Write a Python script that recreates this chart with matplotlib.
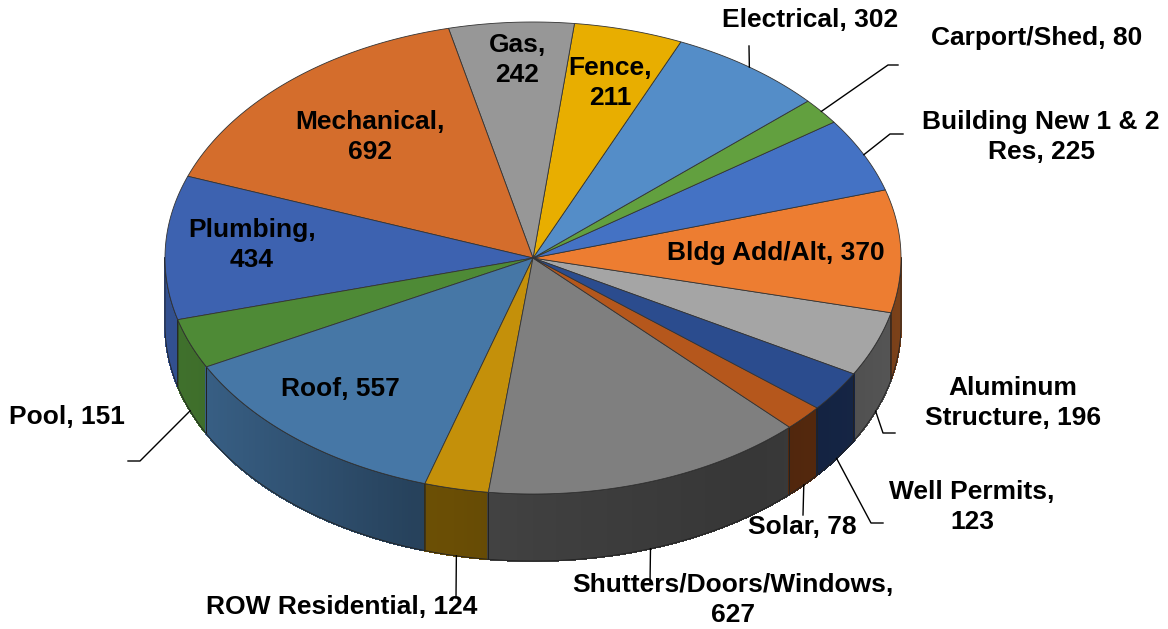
import numpy as np
import matplotlib.pyplot as plt
from matplotlib.colors import to_rgb

# permit counts by type (alphabetical, drawn counterclockwise like the original)
categories = ['Aluminum Structure', 'Bldg Add/Alt', 'Building New 1 & 2 Res', 'Carport/Shed',
              'Electrical', 'Fence', 'Gas', 'Mechanical', 'Plumbing', 'Pool', 'Roof',
              'ROW Residential', 'Shutters/Doors/Windows', 'Solar', 'Well Permits']
counts = [196, 370, 225, 80, 302, 211, 242, 692, 434, 151, 557, 124, 627, 78, 123]
labels = ['Aluminum\nStructure, 196', 'Bldg Add/Alt, 370', 'Building New 1 & 2\nRes, 225',
          'Carport/Shed, 80', 'Electrical, 302', 'Fence,\n211', 'Gas,\n242', 'Mechanical,\n692',
          'Plumbing,\n434', 'Pool, 151', 'Roof, 557', 'ROW Residential, 124',
          'Shutters/Doors/Windows,\n627', 'Solar, 78', 'Well Permits,\n123']
colors = ['#a5a5a5', '#ed7d31', '#4472c4', '#62a03f', '#548dc8', '#e8ae00', '#979797',
          '#d46d2c', '#3d62b0', '#4e8a36', '#4677a6', '#c4900a', '#7f7f7f', '#b5571c', '#2b4c8e']

# label placement (pixels) and leader elbows
label_pos = [(1013, 403), (776, 253), (1041, 137), (1037, 38), (810, 20), (610, 83),
             (517, 60), (370, 137), (252, 245), (67, 417), (340, 389), (342, 607),
             (733, 600), (802, 527), (972, 507)]
leaders = {
    'Aluminum Structure': [(883, 433), (895, 433)],
    'Building New 1 & 2 Res': [(890, 134), (903, 134)],
    'Carport/Shed': [(888, 65), (898, 65)],
    'Electrical': [(749, 46)],
    'Pool': [(140, 461), (128, 461)],
    'ROW Residential': [(456, 598)],
    'Shutters/Doors/Windows': [(650, 584)],
    'Solar': [(803, 515)],
    'Well Permits': [(871, 523), (883, 523)],
}

cx, cy, rx, ry, depth = 533, 258, 368, 236, 67
start = -29.4

plt.rcParams['font.family'] = ['Liberation Sans', 'DejaVu Sans']
fig = plt.figure(figsize=(11.68, 6.29), dpi=100)
ax = fig.add_axes([0, 0, 1, 1])
ax.set_xlim(0, 1168)
ax.set_ylim(629, 0)
ax.axis('off')

vals = np.array(counts, dtype=float)
angles = np.concatenate([[0], np.cumsum(vals / vals.sum() * 360)]) + start


def edge(t):
    r = np.radians(t)
    return cx + rx * np.cos(r), cy - ry * np.sin(r)


def shade(t):
    c = np.cos(np.radians(t))
    return np.interp(c, [-1, -0.9, -0.34, 0, 0.6, 0.82, 1], [0.82, 0.8, 0.56, 0.5, 0.43, 0.47, 0.52])


# side walls (front half only)
for i, (t0, t1) in enumerate(zip(angles[:-1], angles[1:])):
    base = np.array(to_rgb(colors[i]))
    for k in (0, 360):
        a0, a1 = max(t0 + k, 180), min(t1 + k, 360)
        if a1 <= a0:
            continue
        ts = np.linspace(a0, a1, max(int((a1 - a0) * 2), 2))
        for s0, s1 in zip(ts[:-1], ts[1:]):
            x0, y0 = edge(s0)
            x1, y1 = edge(s1)
            c = base * shade((s0 + s1) / 2)
            ax.fill([x0, x1, x1, x0], [y0, y1, y1 + depth, y0 + depth],
                    facecolor=c, edgecolor=c, lw=0.8, antialiased=False, zorder=1)
        xs, ys = edge(ts)
        ax.plot(np.r_[xs, xs[::-1], xs[0]], np.r_[ys, ys[::-1] + depth, ys[0]],
                color='#222222', lw=0.6, zorder=2)

# top face
for i, (t0, t1) in enumerate(zip(angles[:-1], angles[1:])):
    ts = np.linspace(t0, t1, 80)
    xs, ys = edge(ts)
    ax.fill(np.r_[cx, xs], np.r_[cy, ys], facecolor=colors[i], edgecolor='#333333',
            lw=0.6, zorder=3)

# labels and leader lines
for i, name in enumerate(categories):
    ax.text(*label_pos[i], labels[i], ha='center', va='center', fontsize=19,
            fontweight='bold', linespacing=1.3, zorder=5)
    if name in leaders:
        mid = (angles[i] + angles[i + 1]) / 2
        x, y = edge(mid)
        if np.sin(np.radians(mid)) < 0:
            y += depth
        pts = [(x, y)] + leaders[name]
        ax.plot(*zip(*pts), color='black', lw=1, zorder=4)

fig.savefig('out.png', dpi=100)
